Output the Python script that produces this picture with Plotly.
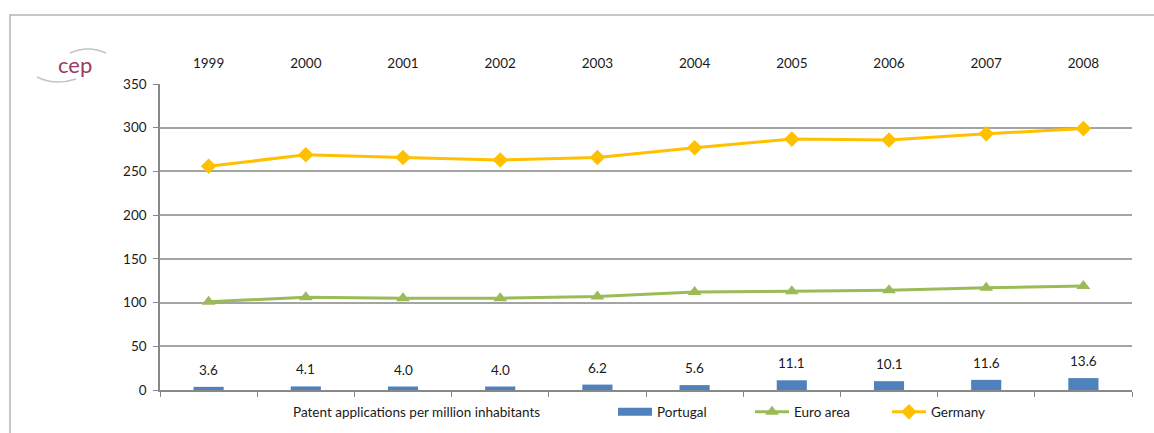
import plotly.graph_objects as go

# Patent applications per million inhabitants
years = [1999, 2000, 2001, 2002, 2003, 2004, 2005, 2006, 2007, 2008]
portugal = [3.6, 4.1, 4.0, 4.0, 6.2, 5.6, 11.1, 10.1, 11.6, 13.6]
euro_area = [101, 106, 105, 105, 107, 112, 113, 114, 117, 119]
germany = [256, 269, 266, 263, 266, 277, 287, 286, 293, 299]
y_ticks = [0, 50, 100, 150, 200, 250, 300, 350]

W, H = 1154, 433
ML, MR, MT, MB = 160, 22, 84, 43
PW, PH = W - ML - MR, H - MT - MB

FONT = "Lato"
TXT = "#1a1a1a"
GRID = "#a4a4a4"
BLUE = "#4F81BD"
GREEN = "#9BBB59"
GOLD = "#FFC000"


def px_x(p):
    return (p - ML) / PW


def px_y(p):
    return (H - MB - p) / PH


fig = go.Figure()

# bars sit on the top category axis so its year labels are drawn
fig.add_trace(go.Bar(
    x=years, y=portugal, name="Portugal", marker_color=BLUE,
    width=0.31, marker_line_width=0, xaxis="x2", showlegend=False,
))
# legend key for the bars (wide flat swatch)
fig.add_trace(go.Scatter(
    x=[None], y=[None], name="Portugal", mode="lines",
    line=dict(color=BLUE, width=8),
))
fig.add_trace(go.Scatter(
    x=years, y=euro_area, name="Euro area", mode="lines+markers",
    line=dict(color=GREEN, width=3),
    marker=dict(symbol="triangle-up", size=12, color=GREEN),
))
fig.add_trace(go.Scatter(
    x=years, y=germany, name="Germany", mode="lines+markers",
    line=dict(color=GOLD, width=3),
    marker=dict(symbol="diamond", size=12, color=GOLD),
))

# value labels above the Portugal bars
for yr, v in zip(years, portugal):
    fig.add_annotation(
        x=yr, y=v, text=f"{v:.1f}", showarrow=False, yanchor="bottom",
        yshift=7, font=dict(family=FONT, size=13.5, color=TXT),
    )

fig.add_annotation(
    xref="paper", yref="paper", x=px_x(416), y=px_y(412),
    text="Patent applications per million inhabitants", showarrow=False,
    xanchor="center", yanchor="middle",
    font=dict(family=FONT, size=13.5, color=TXT),
)

# cep logo
fig.add_annotation(
    xref="paper", yref="paper", x=px_x(75), y=px_y(64),
    text="cep", showarrow=False, xanchor="center", yanchor="middle",
    font=dict(family=FONT, size=22, color="#9C3B60"),
)
fig.add_shape(
    type="path", xref="paper", yref="paper",
    path=(f"M {px_x(70)} {px_y(53)} Q {px_x(88)} {px_y(45)} {px_x(106)} {px_y(53)}"),
    line=dict(color="#c4c4c4", width=1.5),
)
fig.add_shape(
    type="path", xref="paper", yref="paper",
    path=(f"M {px_x(37)} {px_y(77)} Q {px_x(55)} {px_y(86)} {px_x(76)} {px_y(79)}"),
    line=dict(color="#c4c4c4", width=1.5),
)

# outer frame
fig.add_shape(
    type="rect", xref="paper", yref="paper",
    x0=px_x(10), x1=px_x(W + 20), y0=px_y(H + 20), y1=px_y(15),
    line=dict(color="#b5b5b5", width=1.5), layer="below",
)

bounds = [y - 0.5 for y in years] + [years[-1] + 0.5]
xr = [years[0] - 0.5, years[-1] + 0.5]

fig.update_layout(
    width=W, height=H,
    margin=dict(l=ML, r=MR, t=MT, b=MB, autoexpand=False),
    paper_bgcolor="white", plot_bgcolor="white",
    font=dict(family=FONT, size=13.5, color=TXT),
    showlegend=True,
    legend=dict(
        orientation="h", x=px_x(613), y=px_y(412),
        xanchor="left", yanchor="middle",
        font=dict(family=FONT, size=13.5, color=TXT),
        entrywidth=88, itemwidth=34, bgcolor="rgba(0,0,0,0)",
    ),
    xaxis=dict(
        range=xr, tickvals=bounds, showticklabels=False,
        ticks="outside", ticklen=5, tickcolor="#888888",
        showline=True, linecolor="#888888", linewidth=1.5,
        showgrid=False, zeroline=False, fixedrange=True,
    ),
    xaxis2=dict(
        overlaying="x", side="top", anchor="y", range=xr,
        tickvals=years, ticktext=[str(y) for y in years],
        ticks="", showline=False, showgrid=False, zeroline=False,
        ticklabelstandoff=12,
        tickfont=dict(family=FONT, size=13.5, color=TXT),
    ),
    yaxis=dict(
        range=[0, 350], tickvals=y_ticks,
        ticks="outside", ticklen=5, tickcolor="#888888",
        showline=True, linecolor="#888888", linewidth=1.5,
        showgrid=True, gridcolor=GRID, gridwidth=1.5,
        zeroline=False, ticklabelstandoff=4,
        tickfont=dict(family=FONT, size=13.5, color=TXT),
    ),
)

fig.write_html("out.html")
